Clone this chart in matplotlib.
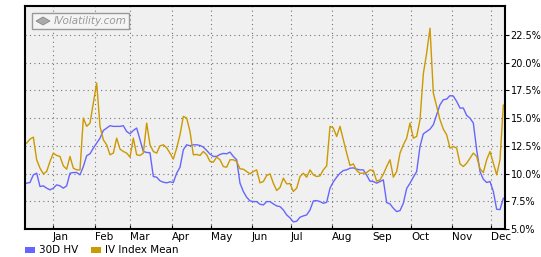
import numpy as np
import matplotlib
matplotlib.use("Agg")
import matplotlib.pyplot as plt
from matplotlib.patches import Rectangle, Polygon

# Datos (en %), muestreados a intervalos regulares sobre el año
hv_30d = [
    9.13, 9.19, 9.88, 10.03, 8.83, 8.89, 8.68, 8.53, 8.68, 8.98, 8.89, 8.68,
    8.89, 10.03, 10.09, 10.09, 9.88, 10.63, 11.60, 11.78, 12.29, 12.74, 13.19, 13.88,
    14.10, 14.31, 14.25, 14.25, 14.25, 14.31, 13.79, 13.58, 13.88, 14.10, 13.04, 11.99,
    11.90, 11.87, 9.73, 9.67, 9.34, 9.22, 9.16, 9.25, 9.19, 10.03, 10.57, 12.14,
    12.59, 12.50, 12.59, 12.59, 12.53, 12.38, 12.08, 11.75, 11.54, 11.54, 11.72, 11.81,
    11.78, 11.93, 11.54, 11.24, 9.13, 8.38, 7.86, 7.53, 7.47, 7.47, 7.23, 7.17,
    7.47, 7.47, 7.26, 7.08, 7.02, 6.72, 6.27, 6.00, 5.64, 5.70, 6.06, 6.18,
    6.27, 6.72, 7.53, 7.56, 7.47, 7.32, 7.41, 8.68, 9.25, 9.67, 10.03, 10.27,
    10.33, 10.48, 10.51, 10.39, 10.33, 10.33, 9.85, 9.31, 9.28, 9.13, 9.28, 9.43,
    7.38, 7.26, 6.87, 6.57, 6.66, 7.32, 8.65, 9.13, 9.67, 10.18, 12.44, 13.58,
    13.79, 14.00, 14.40, 15.30, 16.20, 16.65, 16.71, 17.02, 16.98, 16.50, 15.90, 15.90,
    15.24, 14.99, 14.55, 12.14, 10.18, 9.49, 9.19, 9.28, 8.38, 6.78, 6.75, 7.77,
]
iv_mean = [
    12.74, 13.10, 13.28, 11.24, 10.48, 9.97, 10.18, 11.09, 11.84, 11.63, 11.54, 10.69,
    10.39, 11.54, 10.48, 10.33, 10.33, 15.00, 14.25, 14.55, 16.35, 18.16, 14.25, 13.04,
    12.59, 11.69, 11.84, 13.19, 12.20, 11.99, 11.84, 11.48, 13.19, 11.69, 11.63, 11.84,
    14.55, 12.59, 11.99, 11.84, 12.50, 12.59, 12.32, 11.84, 11.30, 12.29, 13.49, 15.15,
    15.00, 13.79, 11.69, 11.72, 11.63, 11.99, 11.69, 11.09, 11.03, 11.48, 11.24, 10.63,
    10.57, 11.24, 11.24, 11.09, 10.42, 10.39, 10.18, 9.97, 10.18, 10.33, 9.16, 9.28,
    9.82, 9.97, 9.13, 8.47, 8.74, 9.58, 9.07, 9.10, 8.38, 8.68, 9.73, 10.03,
    9.67, 10.33, 9.88, 9.73, 9.79, 10.33, 10.69, 14.25, 14.10, 13.34, 14.25, 13.04,
    11.84, 10.72, 10.87, 10.27, 10.03, 10.03, 10.09, 10.33, 10.27, 9.31, 9.43, 9.94,
    10.63, 11.24, 9.67, 10.18, 11.84, 12.59, 13.19, 14.55, 13.19, 13.34, 14.85, 19.00,
    20.87, 23.10, 17.26, 16.05, 14.85, 14.00, 13.49, 12.29, 12.44, 12.29, 10.87, 10.63,
    10.93, 11.39, 11.84, 11.54, 10.42, 10.09, 11.24, 11.99, 10.93, 9.88, 11.24, 16.17,
]
meses = ["Jan", "Feb", "Mar", "Apr", "May", "Jun", "Jul", "Aug", "Sep", "Oct", "Nov", "Dec"]
pos_meses = [7.9, 20.5, 31.0, 43.6, 55.3, 67.6, 79.3, 91.6, 103.6, 115.3, 127.6, 139.3]
y_ticks = [5.0, 7.5, 10.0, 12.5, 15.0, 17.5, 20.0, 22.5]

c_hv = "#6666ff"
c_iv = "#cc9900"

fig = plt.figure(figsize=(5.41, 2.57), dpi=100)
ax = fig.add_axes([25/541, 1 - 229/257, 480/541, 223/257])
ax.set_facecolor("#f0f0f0")

x = np.arange(len(hv_30d))
ax.plot(x, hv_30d, color=c_hv, lw=1.0)
ax.plot(x, iv_mean, color=c_iv, lw=1.0)

ax.set_xlim(-0.5, len(hv_30d) - 0.5)
ax.set_ylim(5.0, 25.1)

ax.set_xticks(pos_meses)
ax.set_xticklabels(meses)
for lbl in ax.get_xticklabels():
    lbl.set_horizontalalignment("left")
ax.set_yticks(y_ticks)
ax.set_yticklabels([f"{v:.1f}%" for v in y_ticks])
ax.yaxis.tick_right()
ax.tick_params(axis="both", length=3, width=0.8, color="black", labelcolor="black")
ax.tick_params(axis="x", direction="in", pad=2, labelsize=7.5)
ax.tick_params(axis="y", direction="out", pad=1, labelsize=7)

ax.grid(True, color="#777777", linestyle=(0, (1, 3)), linewidth=0.8)
for s in ax.spines.values():
    s.set_color("black")
    s.set_linewidth(1.5)

# Logo IVolatility
box = Rectangle((32/541, 1 - 29/257), 97/541, 16/257, transform=fig.transFigure,
                facecolor="#f4f4f4", edgecolor="#999999", lw=1.0)
fig.patches.append(box)
icono = Polygon([(36/541, 1 - 21/257), (43/541, 1 - 17/257), (50/541, 1 - 21/257),
                 (43/541, 1 - 25/257)], closed=True, transform=fig.transFigure,
                facecolor="#aaaaaa", edgecolor="#888888", lw=0.6)
fig.patches.append(icono)
fig.text(54/541, 1 - 21/257, "IVolatility.com", fontsize=7.5, style="italic",
         color="#999999", va="center", ha="left")

# Leyenda
for x0, col, nombre, tx in [(25, c_hv, "30D HV", 39), (91, c_iv, "IV Index Mean", 105)]:
    fig.patches.append(Rectangle((x0/541, 1 - 253/257), 10/541, 6/257,
                                 transform=fig.transFigure, facecolor=col, edgecolor="none"))
    fig.text(tx/541, 1 - 250/257, nombre, fontsize=7.5, va="center", ha="left")

fig.savefig("out.png", dpi=100)
